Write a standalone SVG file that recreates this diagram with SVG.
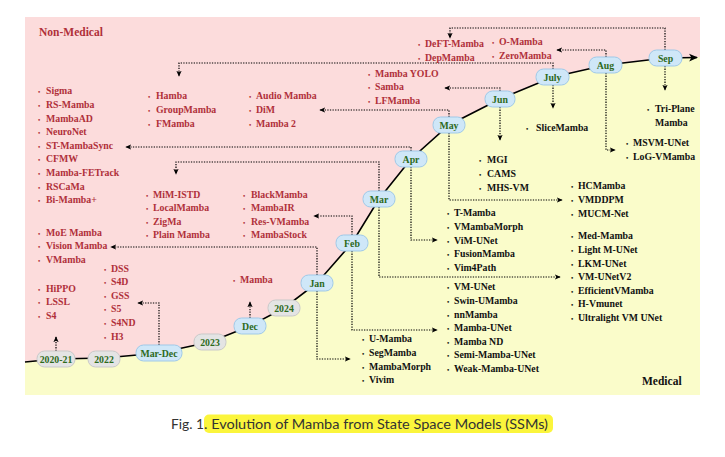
<svg xmlns="http://www.w3.org/2000/svg" width="725" height="457" viewBox="0 0 725 457">
<defs>
<marker id="ah" viewBox="0 0 8 8" refX="7" refY="4" markerWidth="6" markerHeight="6" markerUnits="userSpaceOnUse" orient="auto">
<path d="M0,0.5 L8,4 L0,7.5 L2,4 z" fill="#000"/>
</marker>
<marker id="ahc" viewBox="0 0 8 8" refX="7" refY="4" markerWidth="9" markerHeight="9" markerUnits="userSpaceOnUse" orient="auto">
<path d="M0,0.5 L8,4 L0,7.5 L2,4 z" fill="#000"/>
</marker>
</defs>
<style>
.t{font-family:"Liberation Serif","Times New Roman",serif;font-weight:bold;font-size:9.8px}
.r{fill:#b0303a}
.k{fill:#111}
.bu{font-size:6.5px}
.mb rect{fill:#cfe7f8;stroke:#9fc9e8;stroke-width:1}
.gb rect{fill:#e4e4e4;stroke:#c9c9c9;stroke-width:1}
.mb text,.gb text{font-family:"Liberation Serif","Times New Roman",serif;font-weight:bold;font-size:9.8px;fill:#2d6a1c;text-anchor:middle}
.c{fill:none;stroke:#000;stroke-width:1.2;stroke-dasharray:1.3 1.3;marker-end:url(#ah)}
.hd{font-family:"Liberation Serif","Times New Roman",serif;font-weight:bold;font-size:11.5px}
.cap{font-family:Lato,"Liberation Sans",sans-serif;font-size:12.5px;fill:#333}
</style>
<rect x="0" y="0" width="725" height="457" fill="#fff"/>
<rect x="25" y="17" width="675" height="378" fill="#fafcca"/>
<path d="M25,17 H700 V57 L697,57 L665,58 L606,65 L553,77 L500,99 L449,125 L411,159 L379,199 L352,243 L317,283 L284,308 L250,326 L210,342 L159,353 L104,358 L56,359 L25,362 Z" fill="#fcdcdc"/>
<text class="hd r" x="39" y="36">Non-Medical</text>
<text class="hd k" x="642" y="385">Medical</text>
<path d="M25,362 L56,359 L104,358 L159,353 L210,342 L250,326 L284,308 L317,283 L352,243 L379,199 L411,159 L449,125 L500,99 L553,77 L606,65 L665,58 L697,57.5" fill="none" stroke="#000" stroke-width="1.6" marker-end="url(#ahc)"/>
<g id="connectors">
<path class="c" d="M56,351 V337"/>
<path class="c" d="M159,345 V303 H138"/>
<path class="c" d="M250,318 V302"/>
<path class="c" d="M317,275 V247 H111"/>
<path class="c" d="M317,291 V359 H350"/>
<path class="c" d="M352,235 V216 H314"/>
<path class="c" d="M352,251 V330 H437"/>
<path class="c" d="M379,191 V162 H176 V174"/>
<path class="c" d="M379,207 V277 H560"/>
<path class="c" d="M411,151 V147 H126"/>
<path class="c" d="M411,167 V240 H437"/>
<path class="c" d="M449,117 V110 H320"/>
<path class="c" d="M449,133 V200 H562"/>
<path class="c" d="M500,91 V88 H445"/>
<path class="c" d="M500,107 V140"/>
<path class="c" d="M553,69 V63 H179 V76"/>
<path class="c" d="M553,85 V108"/>
<path class="c" d="M606,57 V50 H557"/>
<path class="c" d="M606,73 V150 H615"/>
<path class="c" d="M665,50 V28 H450 V38"/>
<path class="c" d="M665,66 V90"/>
</g>
<g id="y2020" class="gb"><rect x="37" y="351" width="38" height="16" rx="7.5"/><text x="56" y="362.5">2020-21</text></g>
<g id="y2022" class="gb"><rect x="88" y="351" width="32" height="16" rx="7.5"/><text x="104" y="362.5">2022</text></g>
<g id="marDec" class="mb"><rect x="136" y="345" width="46" height="16" rx="7.5"/><text x="159" y="356.5">Mar-Dec</text></g>
<g id="y2023" class="gb"><rect x="194" y="334" width="32" height="16" rx="7.5"/><text x="210" y="345.5">2023</text></g>
<g id="dec" class="mb"><rect x="234" y="318" width="32" height="16" rx="7.5"/><text x="250" y="329.5">Dec</text></g>
<g id="y2024" class="gb"><rect x="268" y="300" width="32" height="16" rx="7.5"/><text x="284" y="311.5">2024</text></g>
<g id="jan" class="mb"><rect x="301" y="275" width="32" height="16" rx="7.5"/><text x="317" y="286.5">Jan</text></g>
<g id="feb" class="mb"><rect x="336" y="235" width="32" height="16" rx="7.5"/><text x="352" y="246.5">Feb</text></g>
<g id="mar" class="mb"><rect x="363" y="191" width="32" height="16" rx="7.5"/><text x="379" y="202.5">Mar</text></g>
<g id="apr" class="mb"><rect x="395" y="151" width="32" height="16" rx="7.5"/><text x="411" y="162.5">Apr</text></g>
<g id="may" class="mb"><rect x="433" y="117" width="32" height="16" rx="7.5"/><text x="449" y="128.5">May</text></g>
<g id="jun" class="mb"><rect x="485" y="91" width="30" height="16" rx="7.5"/><text x="500" y="102.5">Jun</text></g>
<g id="jul" class="mb"><rect x="536" y="69" width="33" height="16" rx="7.5"/><text x="552.5" y="80.5">July</text></g>
<g id="aug" class="mb"><rect x="589" y="57" width="33" height="16" rx="7.5"/><text x="605.5" y="68.5">Aug</text></g>
<g id="sep" class="mb"><rect x="649" y="50" width="33" height="16" rx="7.5"/><text x="665.5" y="61.5">Sep</text></g>
<g id="listA" class="t r">
<text y="94.4"><tspan class="bu" x="38">•</tspan><tspan x="46">Sigma</tspan></text>
<text y="108"><tspan class="bu" x="38">•</tspan><tspan x="46">RS-Mamba</tspan></text>
<text y="121.6"><tspan class="bu" x="38">•</tspan><tspan x="46">MambaAD</tspan></text>
<text y="135.2"><tspan class="bu" x="38">•</tspan><tspan x="46">NeuroNet</tspan></text>
<text y="148.8"><tspan class="bu" x="38">•</tspan><tspan x="46">ST-MambaSync</tspan></text>
<text y="162.4"><tspan class="bu" x="38">•</tspan><tspan x="46">CFMW</tspan></text>
<text y="176"><tspan class="bu" x="38">•</tspan><tspan x="46">Mamba-FETrack</tspan></text>
<text y="189.6"><tspan class="bu" x="38">•</tspan><tspan x="46">RSCaMa</tspan></text>
<text y="203.2"><tspan class="bu" x="38">•</tspan><tspan x="46">Bi-Mamba+</tspan></text>
</g>
<g id="listB" class="t r">
<text y="235.6"><tspan class="bu" x="38">•</tspan><tspan x="46">MoE Mamba</tspan></text>
<text y="249.2"><tspan class="bu" x="38">•</tspan><tspan x="46">Vision Mamba</tspan></text>
<text y="262.8"><tspan class="bu" x="38">•</tspan><tspan x="46">VMamba</tspan></text>
</g>
<g id="listC" class="t r">
<text y="291.6"><tspan class="bu" x="38">•</tspan><tspan x="46">HiPPO</tspan></text>
<text y="305.2"><tspan class="bu" x="38">•</tspan><tspan x="46">LSSL</tspan></text>
<text y="318.8"><tspan class="bu" x="38">•</tspan><tspan x="46">S4</tspan></text>
</g>
<g id="listD" class="t r">
<text y="271.6"><tspan class="bu" x="104">•</tspan><tspan x="111">DSS</tspan></text>
<text y="285.2"><tspan class="bu" x="104">•</tspan><tspan x="111">S4D</tspan></text>
<text y="298.8"><tspan class="bu" x="104">•</tspan><tspan x="111">GSS</tspan></text>
<text y="312.4"><tspan class="bu" x="104">•</tspan><tspan x="111">S5</tspan></text>
<text y="326"><tspan class="bu" x="104">•</tspan><tspan x="111">S4ND</tspan></text>
<text y="339.6"><tspan class="bu" x="104">•</tspan><tspan x="111">H3</tspan></text>
</g>
<g id="listE" class="t r">
<text y="283.4"><tspan class="bu" x="233">•</tspan><tspan x="240">Mamba</tspan></text>
</g>
<g id="listF" class="t r">
<text y="197.6"><tspan class="bu" x="146">•</tspan><tspan x="153">MiM-ISTD</tspan></text>
<text y="211.2"><tspan class="bu" x="146">•</tspan><tspan x="153">LocalMamba</tspan></text>
<text y="224.8"><tspan class="bu" x="146">•</tspan><tspan x="153">ZigMa</tspan></text>
<text y="238.4"><tspan class="bu" x="146">•</tspan><tspan x="153">Plain Mamba</tspan></text>
</g>
<g id="listG" class="t r">
<text y="197.6"><tspan class="bu" x="243">•</tspan><tspan x="251">BlackMamba</tspan></text>
<text y="211.2"><tspan class="bu" x="243">•</tspan><tspan x="251">MambaIR</tspan></text>
<text y="224.8"><tspan class="bu" x="243">•</tspan><tspan x="251">Res-VMamba</tspan></text>
<text y="238.4"><tspan class="bu" x="243">•</tspan><tspan x="251">MambaStock</tspan></text>
</g>
<g id="listH" class="t r">
<text y="99.4"><tspan class="bu" x="148">•</tspan><tspan x="156">Hamba</tspan></text>
<text y="113"><tspan class="bu" x="148">•</tspan><tspan x="156">GroupMamba</tspan></text>
<text y="126.6"><tspan class="bu" x="148">•</tspan><tspan x="156">FMamba</tspan></text>
</g>
<g id="listI" class="t r">
<text y="99.4"><tspan class="bu" x="249">•</tspan><tspan x="256">Audio Mamba</tspan></text>
<text y="113"><tspan class="bu" x="249">•</tspan><tspan x="256">DiM</tspan></text>
<text y="126.6"><tspan class="bu" x="249">•</tspan><tspan x="256">Mamba 2</tspan></text>
</g>
<g id="listJ" class="t r">
<text y="76.6"><tspan class="bu" x="368">•</tspan><tspan x="375">Mamba YOLO</tspan></text>
<text y="90.2"><tspan class="bu" x="368">•</tspan><tspan x="375">Samba</tspan></text>
<text y="103.8"><tspan class="bu" x="368">•</tspan><tspan x="375">LFMamba</tspan></text>
</g>
<g id="listK" class="t r">
<text y="47.4"><tspan class="bu" x="418">•</tspan><tspan x="425">DeFT-Mamba</tspan></text>
<text y="61"><tspan class="bu" x="418">•</tspan><tspan x="425">DepMamba</tspan></text>
</g>
<g id="listL" class="t r">
<text y="45.4"><tspan class="bu" x="492">•</tspan><tspan x="499">O-Mamba</tspan></text>
<text y="59"><tspan class="bu" x="492">•</tspan><tspan x="499">ZeroMamba</tspan></text>
</g>
<g id="listM" class="t k">
<text y="112.4"><tspan class="bu" x="647">•</tspan><tspan x="655">Tri-Plane</tspan></text>
<text x="655" y="126">Mamba</text>
</g>
<g id="listN" class="t k">
<text y="146.4"><tspan class="bu" x="626">•</tspan><tspan x="633">MSVM-UNet</tspan></text>
<text y="160"><tspan class="bu" x="626">•</tspan><tspan x="633">LoG-VMamba</tspan></text>
</g>
<g id="listO" class="t k">
<text y="131.4"><tspan class="bu" x="526">•</tspan><tspan x="536">SliceMamba</tspan></text>
</g>
<g id="listP" class="t k">
<text y="163.4"><tspan class="bu" x="479">•</tspan><tspan x="487">MGI</tspan></text>
<text y="177"><tspan class="bu" x="479">•</tspan><tspan x="487">CAMS</tspan></text>
<text y="190.6"><tspan class="bu" x="479">•</tspan><tspan x="487">MHS-VM</tspan></text>
</g>
<g id="listQ" class="t k">
<text y="189.4"><tspan class="bu" x="571">•</tspan><tspan x="578">HCMamba</tspan></text>
<text y="203"><tspan class="bu" x="571">•</tspan><tspan x="578">VMDDPM</tspan></text>
<text y="216.6"><tspan class="bu" x="571">•</tspan><tspan x="578">MUCM-Net</tspan></text>
</g>
<g id="listR" class="t k">
<text y="239.4"><tspan class="bu" x="571">•</tspan><tspan x="578">Med-Mamba</tspan></text>
<text y="253"><tspan class="bu" x="571">•</tspan><tspan x="578">Light M-UNet</tspan></text>
<text y="266.6"><tspan class="bu" x="571">•</tspan><tspan x="578">LKM-UNet</tspan></text>
<text y="280.2"><tspan class="bu" x="571">•</tspan><tspan x="578">VM-UNetV2</tspan></text>
<text y="293.8"><tspan class="bu" x="571">•</tspan><tspan x="578">EfficientVMamba</tspan></text>
<text y="307.4"><tspan class="bu" x="571">•</tspan><tspan x="578">H-Vmunet</tspan></text>
<text y="321"><tspan class="bu" x="571">•</tspan><tspan x="578">Ultralight VM UNet</tspan></text>
</g>
<g id="listS" class="t k">
<text y="216.4"><tspan class="bu" x="447">•</tspan><tspan x="454">T-Mamba</tspan></text>
<text y="230"><tspan class="bu" x="447">•</tspan><tspan x="454">VMambaMorph</tspan></text>
<text y="243.6"><tspan class="bu" x="447">•</tspan><tspan x="454">ViM-UNet</tspan></text>
<text y="257.2"><tspan class="bu" x="447">•</tspan><tspan x="454">FusionMamba</tspan></text>
<text y="270.8"><tspan class="bu" x="447">•</tspan><tspan x="454">Vim4Path</tspan></text>
</g>
<g id="listT" class="t k">
<text y="290.4"><tspan class="bu" x="447">•</tspan><tspan x="454">VM-UNet</tspan></text>
<text y="304"><tspan class="bu" x="447">•</tspan><tspan x="454">Swin-UMamba</tspan></text>
<text y="317.6"><tspan class="bu" x="447">•</tspan><tspan x="454">nnMamba</tspan></text>
<text y="331.2"><tspan class="bu" x="447">•</tspan><tspan x="454">Mamba-UNet</tspan></text>
<text y="344.8"><tspan class="bu" x="447">•</tspan><tspan x="454">Mamba ND</tspan></text>
<text y="358.4"><tspan class="bu" x="447">•</tspan><tspan x="454">Semi-Mamba-UNet</tspan></text>
<text y="372"><tspan class="bu" x="447">•</tspan><tspan x="454">Weak-Mamba-UNet</tspan></text>
</g>
<g id="listU" class="t k">
<text y="342.4"><tspan class="bu" x="362">•</tspan><tspan x="369">U-Mamba</tspan></text>
<text y="356"><tspan class="bu" x="362">•</tspan><tspan x="369">SegMamba</tspan></text>
<text y="369.6"><tspan class="bu" x="362">•</tspan><tspan x="369">MambaMorph</tspan></text>
<text y="383.2"><tspan class="bu" x="362">•</tspan><tspan x="369">Vivim</tspan></text>
</g>
<g id="caption">
<rect x="204" y="414.5" width="349" height="18.5" rx="5" fill="#fbf53c"/>
<text class="cap" x="171" y="428.5" textLength="33" lengthAdjust="spacingAndGlyphs">Fig. 1</text>
<text class="cap" x="204" y="428.5" textLength="344" lengthAdjust="spacingAndGlyphs">. Evolution of Mamba from State Space Models (SSMs)</text>
</g>
</svg>
